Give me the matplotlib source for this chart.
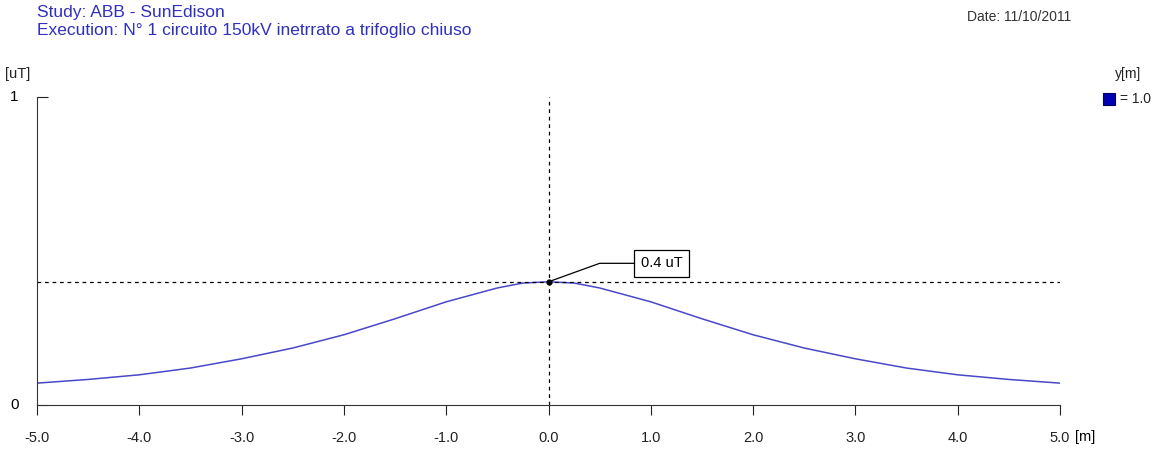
import matplotlib.pyplot as plt

# magnetic induction profile along the transverse axis, height y = 1.0 m
x_m = [-5.0, -4.5, -4.0, -3.5, -3.0, -2.5, -2.0, -1.5, -1.0, -0.5, -0.25,
       0.0, 0.25, 0.5, 1.0, 1.5, 2.0, 2.5, 3.0, 3.5, 4.0, 4.5, 5.0]
b_ut = [0.071, 0.083, 0.098, 0.120, 0.150, 0.185, 0.228, 0.280, 0.335, 0.380, 0.396,
        0.400, 0.396, 0.380, 0.335, 0.280, 0.228, 0.185, 0.150, 0.120, 0.098, 0.083, 0.071]
x_ticks = [-5.0, -4.0, -3.0, -2.0, -1.0, 0.0, 1.0, 2.0, 3.0, 4.0, 5.0]
peak_x = 0.0
peak_val = 0.4

plt.rcParams['font.family'] = ['Liberation Sans', 'DejaVu Sans']
fig = plt.figure(figsize=(11.53, 4.5), dpi=100)
ax = fig.add_axes([37 / 1153, 45 / 450, 1023 / 1153, 308 / 450])

ax.plot(x_m, b_ut, color='#4848c8', lw=1.1)
ax.axhline(peak_val, color='black', lw=0.9, ls=(0, (3, 3)))
ax.axvline(peak_x, color='black', lw=0.9, ls=(0, (3, 3)))
ax.plot([peak_x], [peak_val], 'o', color='black', ms=3.5)

# leader line to the value box
ax.plot([peak_x, 0.5, 0.87], [peak_val, 0.46, 0.46], color='black', lw=0.9)
ax.text(0.9, 0.46, f'{peak_val} uT', fontsize=10.5, va='center', ha='left',
        bbox=dict(boxstyle='square,pad=0.45', fc='white', ec='black', lw=0.9))

ax.set_xlim(-5, 5)
ax.set_ylim(0, 1)
for s in ('top', 'right'):
    ax.spines[s].set_visible(False)
for s in ('left', 'bottom'):
    ax.spines[s].set_color('#333333')
ax.set_xticks(x_ticks)
ax.set_xticklabels([f'{v:.1f}' for v in x_ticks])
ax.tick_params(axis='x', direction='out', length=7, pad=12, labelsize=10.5, colors='#222222')
ax.set_yticks([0, 1])
ax.set_yticklabels([])
ax.tick_params(axis='y', direction='in', length=8, colors='#222222')
ax.text(-0.022, 0, '0', transform=ax.transAxes, fontsize=11, ha='center', va='center')
ax.text(-0.022, 1.0, '1', transform=ax.transAxes, fontsize=11, ha='center', va='center')
ax.text(1.015, -0.105, '[m]', transform=ax.transAxes, fontsize=10.5, ha='left', va='center')

# header texts
fig.text(37 / 1153, 1 - 13 / 450, 'Study: ABB - SunEdison', color='#3030c0', fontsize=12.5, va='center')
fig.text(37 / 1153, 1 - 30 / 450, 'Execution: N° 1 circuito 150kV inetrrato a trifoglio chiuso',
         color='#3030c0', fontsize=12.5, va='center')
fig.text(1071 / 1153, 1 - 17 / 450, 'Date: 11/10/2011', color='#333333', fontsize=10, va='center', ha='right')
fig.text(5 / 1153, 1 - 74 / 450, '[uT]', color='#222222', fontsize=10.5, va='center')
fig.text(1141 / 1153, 1 - 74 / 450, 'y[m]', color='#222222', fontsize=10, va='center', ha='right')

# legend
fig.patches.append(plt.Rectangle((1103 / 1153, 1 - 105 / 450), 12 / 1153, 12 / 450,
                                 transform=fig.transFigure, fc='#0000b4', ec='#000060', lw=0.8))
fig.text(1120 / 1153, 1 - 99 / 450, '= 1.0', color='#222222', fontsize=10, va='center', ha='left')

fig.savefig('out.png', dpi=100, facecolor='white')
